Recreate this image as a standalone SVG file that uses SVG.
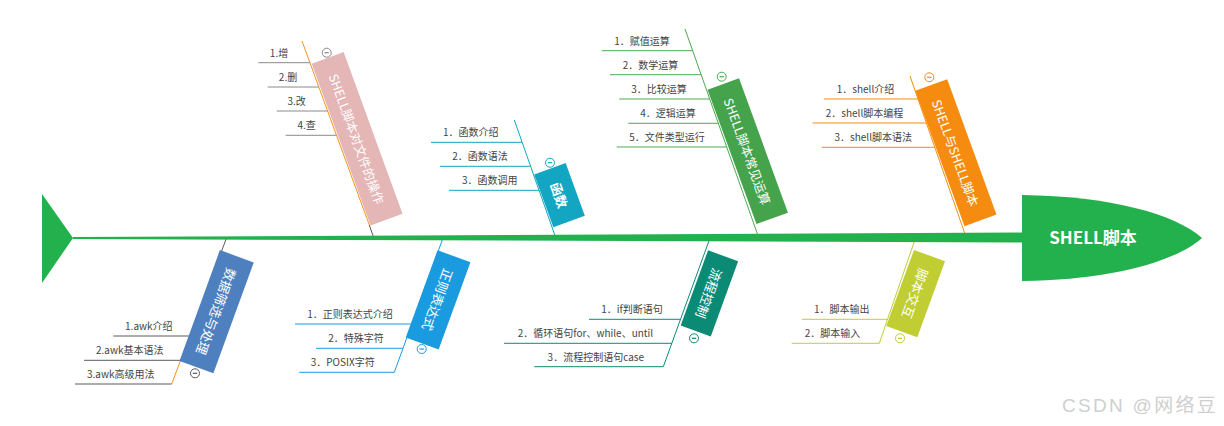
<svg xmlns="http://www.w3.org/2000/svg" width="1224" height="426" viewBox="0 0 1224 426">
<style>
text{font-family:"Noto Sans CJK SC","Noto Sans",sans-serif}
.sub{font-size:10px;fill:#444;text-anchor:middle}
.lbl{fill:#fff;text-anchor:middle;dominant-baseline:central;font-size:13px}
.lbs{fill:#fff;text-anchor:middle;dominant-baseline:central;font-size:12.5px}
.ln{fill:none;stroke-width:1}
.mk{fill:#fff;stroke-width:1}
.c-gray{stroke:#8a8a8a}.c-dgray{stroke:#5a5a5a}.c-org{stroke:#f7931e}
.c-cyan{stroke:#12a6c2}.c-green{stroke:#4caa50}.c-orange{stroke:#f68c0f}
.c-blue{stroke:#1a9be0}.c-teal{stroke:#0b8a76}.c-yg{stroke:#c0cd33}
.wm{font-family:"Liberation Sans","Noto Sans CJK SC",sans-serif;font-size:19px;fill:#cfcfcf;letter-spacing:2.3px}
</style>
<defs>
<g id="minus"><circle r="4.5" fill="#fff"/><line x1="-2.2" y1="0" x2="2.2" y2="0" stroke-width="1.2"/></g>
</defs>

<g id="connectors">
<line class="ln c-org" x1="302" y1="41" x2="369.3" y2="225"/>
<line class="ln c-dgray" x1="369.3" y1="225" x2="373.5" y2="237"/>
<g class="ln c-gray">
<line x1="258.3" y1="62.7" x2="309.9" y2="62.7"/>
<line x1="267.7" y1="87" x2="318.8" y2="87"/>
<line x1="276.7" y1="111" x2="327.5" y2="111"/>
<line x1="285.7" y1="135.3" x2="336.4" y2="135.3"/>
</g>
<g class="ln c-cyan">
<line x1="514.3" y1="120" x2="555.5" y2="237"/>
<line x1="431" y1="142.3" x2="522.1" y2="142.3"/>
<line x1="440" y1="166.3" x2="530.6" y2="166.3"/>
<line x1="449" y1="190.3" x2="539" y2="190.3"/>
</g>
<g class="ln c-green">
<line x1="685" y1="29" x2="758.5" y2="237"/>
<line x1="601.7" y1="50.7" x2="692.7" y2="50.7"/>
<line x1="610" y1="74.7" x2="701.2" y2="74.7"/>
<line x1="619.3" y1="99" x2="709.7" y2="99"/>
<line x1="628.3" y1="123.3" x2="718.3" y2="123.3"/>
<line x1="616.7" y1="147" x2="726.7" y2="147"/>
</g>
<g class="ln c-orange">
<line x1="910" y1="76" x2="966" y2="237"/>
<line x1="824" y1="99" x2="918" y2="99"/>
<line x1="812.7" y1="123" x2="926.3" y2="123"/>
<line x1="821.7" y1="147.3" x2="934.8" y2="147.3"/>
</g>
<line class="ln c-dgray" x1="226.5" y1="238" x2="180.6" y2="360.3"/>
<line class="ln c-org" x1="180.6" y1="360.3" x2="171.7" y2="384"/>
<g class="ln c-dgray">
<line x1="113.3" y1="336" x2="189.7" y2="336"/>
<line x1="84" y1="360.3" x2="180.6" y2="360.3"/>
<line x1="75" y1="384" x2="171.7" y2="384"/>
</g>
<g class="ln c-blue">
<line x1="443" y1="238" x2="394.3" y2="372.3"/>
<line x1="295" y1="324" x2="411.8" y2="324"/>
<line x1="316" y1="348.3" x2="403" y2="348.3"/>
<line x1="299.3" y1="372.3" x2="394.3" y2="372.3"/>
</g>
<g class="ln c-teal">
<line x1="710" y1="238" x2="663.3" y2="366.7"/>
<line x1="589" y1="319.3" x2="680.5" y2="319.3"/>
<line x1="504" y1="343.3" x2="671.8" y2="343.3"/>
<line x1="534.3" y1="366.7" x2="663.3" y2="366.7"/>
</g>
<g class="ln c-yg">
<line x1="915.5" y1="238" x2="879.3" y2="343.3"/>
<line x1="801.7" y1="319.3" x2="887.5" y2="319.3"/>
<line x1="791.7" y1="343.3" x2="879.3" y2="343.3"/>
</g>
</g>

<g id="spine">
<polygon points="42,194 73,238 42,283" fill="#22b14c"/>
<polygon points="73,237 1030,232.5 1030,242.5 73,239" fill="#22b14c"/>
</g>

<g id="head">
<path d="M1022,195 C1110,196 1175,214 1202,238 C1175,262 1110,280 1022,281 Z" fill="#22b14c"/>
<text x="1093" y="244" font-size="17" font-weight="bold" fill="#fff" text-anchor="middle">SHELL脚本</text>
</g>

<g id="n-file">
<g transform="translate(357.1,138.75) rotate(70)"><rect x="-86" y="-17" width="172" height="34" fill="#e4b6b6"/><text class="lbs" x="0" y="0">SHELL脚本对文件的操作</text></g>
<use href="#minus" x="326.7" y="52.7" class="mk c-gray"/>
<text class="sub" x="279" y="56.7">1.增</text>
<text class="sub" x="288" y="81">2.删</text>
<text class="sub" x="296.7" y="105">3.改</text>
<text class="sub" x="306.7" y="129.3">4.查</text>
</g>

<g id="n-func">
<g transform="translate(559.5,195.1) rotate(70)"><rect x="-28" y="-16.75" width="56" height="33.5" fill="#12a6c2"/><text class="lbl" x="0" y="0" font-weight="bold">函数</text></g>
<use href="#minus" x="550" y="162.7" class="mk c-cyan"/>
<text class="sub" x="470.8" y="136.3">1．函数介绍</text>
<text class="sub" x="480" y="160.3">2．函数语法</text>
<text class="sub" x="489.7" y="184.3">3．函数调用</text>
</g>

<g id="n-ops">
<g transform="translate(747.75,151.2) rotate(70)"><rect x="-71.5" y="-16.75" width="143" height="33.5" fill="#45a34b"/><text class="lbs" x="0" y="0">SHELL脚本常见运算</text></g>
<use href="#minus" x="721.7" y="76.7" class="mk c-green"/>
<text class="sub" x="642" y="44.7">1．赋值运算</text>
<text class="sub" x="650.5" y="68.7">2．数学运算</text>
<text class="sub" x="659" y="93">3．比较运算</text>
<text class="sub" x="668" y="117.3">4．逻辑运算</text>
<text class="sub" x="667" y="141">5．文件类型运行</text>
</g>

<g id="n-shell">
<g transform="translate(955.85,152.7) rotate(70)"><rect x="-72" y="-17" width="144" height="34" fill="#f68c0f"/><text class="lbs" x="0" y="0">SHELL与SHELL脚本</text></g>
<use href="#minus" x="929.3" y="77.3" class="mk c-orange"/>
<text class="sub" x="865.5" y="93">1．shell介绍</text>
<text class="sub" x="864.5" y="117">2．shell脚本编程</text>
<text class="sub" x="873.3" y="141.3">3．shell脚本语法</text>
</g>

<g id="n-data">
<g transform="translate(216.65,311.7) rotate(110)"><rect x="-59" y="-18" width="118" height="36" fill="#4e7fbe"/><text class="lbl" x="0" y="0">数据筛选与处理</text></g>
<use href="#minus" x="195" y="373.3" class="mk c-dgray"/>
<text class="sub" x="148.8" y="330">1.awk介绍</text>
<text class="sub" x="129.7" y="354.3">2.awk基本语法</text>
<text class="sub" x="120.7" y="378">3.awk高级用法</text>
</g>

<g id="n-regex">
<g transform="translate(438.1,299.9) rotate(110)"><rect x="-46.5" y="-17.5" width="93" height="35" fill="#1a9be0"/><text class="lbl" x="0" y="0">正则表达式</text></g>
<use href="#minus" x="421.7" y="349" class="mk c-blue"/>
<text class="sub" x="350" y="318">1．正则表达式介绍</text>
<text class="sub" x="356" y="342.3">2．特殊字符</text>
<text class="sub" x="342.7" y="366.3">3．POSIX字符</text>
</g>

<g id="n-flow">
<g transform="translate(709.4,293.35) rotate(110)"><rect x="-40" y="-16" width="80" height="32" fill="#0b8a76"/><text class="lbl" x="0" y="0">流程控制</text></g>
<use href="#minus" x="694" y="338.3" class="mk c-teal"/>
<text class="sub" x="632" y="313.3">1．if判断语句</text>
<text class="sub" x="585.5" y="337.3">2．循环语句for、while、until</text>
<text class="sub" x="595.8" y="360.7">3．流程控制语句case</text>
</g>

<g id="n-io">
<g transform="translate(915.65,293.6) rotate(110)"><rect x="-40.5" y="-16.5" width="81" height="33" fill="#c0cd33"/><text class="lbl" x="0" y="0">脚本交互</text></g>
<use href="#minus" x="900" y="338.3" class="mk c-yg"/>
<text class="sub" x="841.7" y="313.3">1．脚本输出</text>
<text class="sub" x="832.5" y="337.3">2．脚本输入</text>
</g>

<text class="wm" x="1062" y="412">CSDN @网络豆</text>
</svg>
